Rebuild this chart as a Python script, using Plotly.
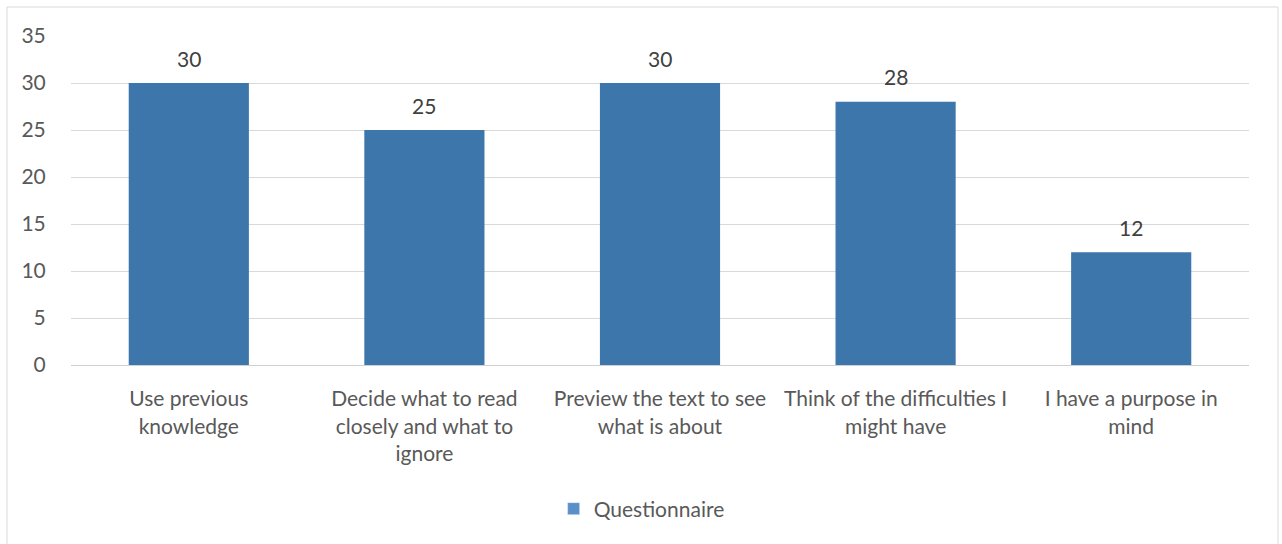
import plotly.graph_objects as go

categories = [
    "Use previous<br>knowledge",
    "Decide what to read<br>closely and what to<br>ignore",
    "Preview the text to see<br>what is about",
    "Think of the difficulties I<br>might have",
    "I have a purpose in<br>mind",
]
values = [30, 25, 30, 28, 12]
series_name = "Questionnaire"
y_ticks = [0, 5, 10, 15, 20, 25, 30, 35]

FONT = "Lato"
TXT = "#595959"
FS = 21

fig = go.Figure()
fig.add_trace(go.Bar(
    x=categories, y=values, name=series_name,
    marker=dict(color="#3d76aa", line=dict(width=0)),
    showlegend=False,
))
# legend entry
fig.add_trace(go.Bar(
    x=[categories[0]], y=[None], name=series_name,
    marker=dict(color="#5a8fc8"), showlegend=True,
))

W, H = 1282, 544
L, R, T, B = 71, 33, 36, 179
pw, ph = W - L - R, H - T - B

annotations = [
    dict(x=c, y=v, xref="x", yref="y", text=str(v), showarrow=False,
         yshift=25, font=dict(family=FONT, size=FS, color="#404040"))
    for c, v in zip(categories, values)
]

fig.update_layout(
    width=W, height=H,
    margin=dict(l=L, r=R, t=T, b=B),
    paper_bgcolor="white", plot_bgcolor="white",
    bargap=0.49, barmode="overlay",
    font=dict(family=FONT, size=FS, color=TXT),
    legend=dict(
        orientation="h", xref="container", yref="container",
        x=0.5005, xanchor="center", y=(H - 509) / H, yanchor="middle",
        font=dict(family=FONT, size=FS, color=TXT),
        itemwidth=30, traceorder="normal",
    ),
    xaxis=dict(
        showgrid=False, showline=True, linecolor="#d0d0d0", linewidth=1,
        ticks="outside", ticklen=15, tickcolor="rgba(0,0,0,0)",
        tickfont=dict(family=FONT, size=FS, color=TXT),
        tickangle=0,
    ),
    yaxis=dict(
        range=[0, 35], tickvals=y_ticks,
        showgrid=True, gridcolor="#d9d9d9", gridwidth=1,
        zeroline=False, showline=False,
        ticks="outside", ticklen=20, tickcolor="rgba(0,0,0,0)",
        tickfont=dict(family=FONT, size=FS, color=TXT),
    ),
    annotations=annotations,
    shapes=[dict(
        type="rect", xref="paper", yref="paper",
        x0=(7 - L) / pw, x1=(1278 - L) / pw,
        y0=-0.7, y1=1 + (T - 7) / ph,
        line=dict(color="#d9d9d9", width=1), fillcolor="rgba(0,0,0,0)",
        layer="below",
    )],
)

fig.write_html("out.html")
